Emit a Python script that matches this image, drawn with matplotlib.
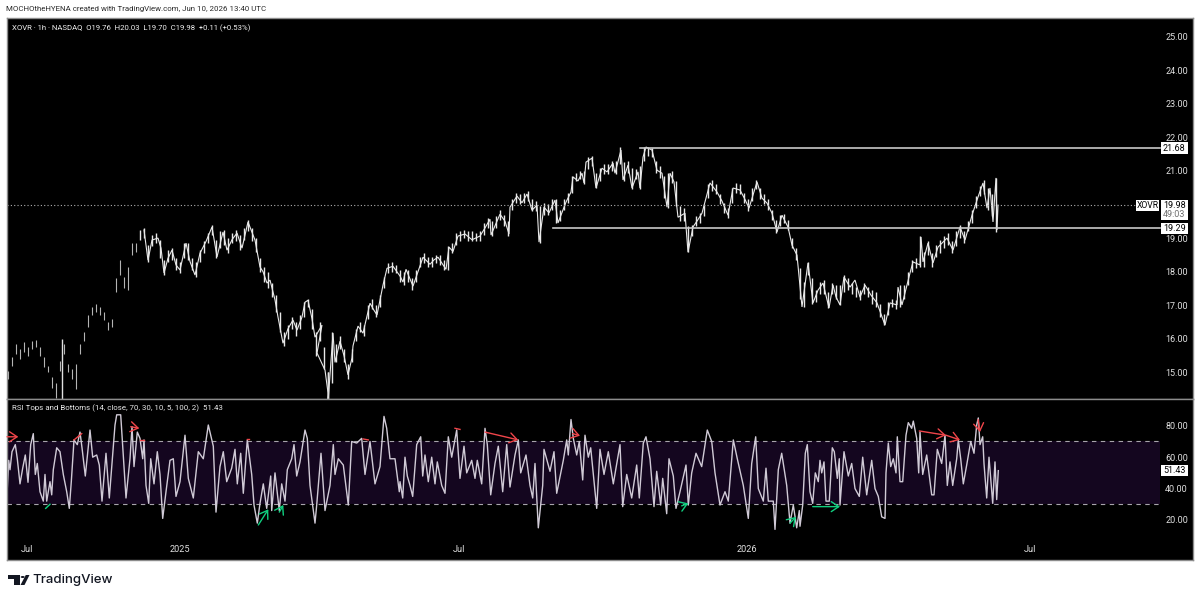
import matplotlib
matplotlib.use('Agg')
import matplotlib.pyplot as plt
from matplotlib.patches import Polygon, Circle, Rectangle

W, H = 1200, 600
FONT = 'Roboto'
plt.rcParams['font.family'] = [FONT, 'DejaVu Sans']

# time axis is index based, not calendar based, so positions are plain numbers
time_ticks = [27, 180, 459, 747, 1030]
time_labels = ['Jul', '2025', 'Jul', '2026', 'Jul']

price_ticks = [15, 16, 17, 18, 19, 21, 22, 23, 24, 25]
rsi_ticks = [20, 40, 60, 80]

# closes along the run, solid part only (the left end of the chart is broken up)
price_t = [144, 148, 152, 158, 161,
           164, 168, 172, 176, 180, 186, 190, 195, 200, 206, 212, 217, 223, 227, 232, 237, 242, 248, 255, 260,
           263, 267, 270, 275, 278, 283, 288, 293, 297, 302, 305, 308, 312, 315, 322, 317, 325, 328, 328, 333,
           335, 340, 344, 348, 352, 353, 358, 363, 370, 374, 377, 380, 383, 387, 393, 400,
           403, 406, 413, 418, 423, 430, 434, 438, 446, 449, 453, 458, 465, 472, 480, 485, 490, 491, 500, 505,
           509, 510, 517, 522, 527, 532, 537, 539, 544, 549, 555, 558, 566, 571, 573, 578, 582, 584, 586, 592,
           596, 602, 607, 613, 615, 621, 623, 628, 632, 638, 640, 643, 646, 652, 657, 662, 667, 670, 674, 678,
           685, 688, 693, 698, 702, 710, 717, 722, 728, 733, 740, 745, 749, 757, 762, 767, 772, 777, 782, 788,
           792, 797, 802, 808, 813, 818, 823, 829, 833, 836, 840, 844, 850, 855, 860, 865, 871, 877, 885, 890,
           897, 898, 902, 910, 913, 920, 921, 923, 928, 933, 938, 947, 953, 960, 965, 972, 978, 983, 987, 990,
           993, 996, 997, 998]
price = [19.24, 18.34, 18.94, 19.00, 18.70,
         17.96, 18.40, 18.64, 18.20, 18.05, 18.85, 18.30, 17.90, 18.55, 18.90, 19.33, 18.44, 19.18, 18.64, 18.95, 19.15, 18.70, 19.48, 18.94, 18.14,
         18.00, 17.66, 17.75, 17.16, 16.65, 15.87, 16.30, 16.56, 16.26, 16.65, 17.09, 17.15, 16.60, 16.05, 16.41, 15.58, 15.07, 14.40, 14.10, 16.17,
         15.30, 15.93, 15.50, 14.93, 15.43, 15.79, 16.38, 16.17, 17.06, 16.85, 16.71, 17.15, 17.60, 18.10, 18.16, 17.87,
         17.69, 18.07, 17.57, 18.00, 18.43, 18.22, 18.35, 18.43, 18.07, 18.73, 18.60, 19.06, 19.12, 18.95, 19.06, 19.30, 19.56, 19.09, 19.71, 19.50,
         19.12, 19.92, 20.25, 20.05, 20.31, 19.83, 19.98, 18.88, 19.92, 19.75, 20.13, 19.45, 20.07, 20.37, 20.82, 20.70, 20.93, 20.64, 21.26, 21.38,
         20.49, 21.08, 20.97, 21.23, 20.93, 21.62, 20.73, 21.17, 20.49, 20.97, 20.49, 21.41, 21.71, 21.62, 21.02, 20.93, 19.92, 20.93, 20.67, 19.62,
         19.74, 18.58, 19.33, 19.55, 19.74, 20.64, 20.37, 20.10, 19.68, 20.49, 20.43, 20.15, 19.89, 20.67, 20.19, 20.04, 19.74, 19.18, 19.68, 19.33,
         18.79, 18.49, 16.95, 18.26, 17.07, 17.45, 17.66, 16.92, 17.60, 17.25, 17.01, 17.84, 17.54, 17.75, 17.24, 17.60, 17.30, 17.07, 16.41, 17.07,
         17.01, 17.54, 17.01, 17.96, 18.29, 18.20, 19.03, 18.29, 18.85, 18.26, 18.73, 19.00, 18.64, 19.33, 18.94, 19.68, 20.22, 20.64, 19.89, 20.49,
         19.48, 20.79, 19.24, 19.98]

# bar ranges, one every 4 units from t=8, ten to a row
bar_low = [14.8, 15.2, 15.55, 15.4, 15.6, 15.5, 15.7, 15.75, 15.5, 15.15,
           15.0, 14.55, 14.25, 15.05, 15.55, 15.0, 14.8, 14.5, 15.55, 15.95,
           16.35, 16.7, 16.8, 16.7, 16.55, 16.25, 16.35, 17.4, 17.9, 17.5,
           17.45, 18.5, 18.6, 18.95, 19.0, 18.3, 18.75, 18.85, 18.4, 17.9,
           18.3, 18.35, 18.05, 17.95, 18.4, 18.35, 18.05, 17.85, 18.3, 18.55,
           18.85, 19.1, 18.4, 18.7, 18.8, 18.55, 18.85, 18.9, 18.65, 18.95,
           19.2, 18.9, 18.6, 18.0, 17.7, 17.5, 17.25, 16.8, 16.2, 15.8,
           16.0, 16.3, 16.1, 16.3, 16.65, 16.95, 16.3, 15.5, 15.95, 15.1,
           14.21, 14.7, 15.3, 15.7, 15.3, 14.8, 15.3, 15.95, 16.2, 16.1,
           16.6, 16.9, 16.65, 16.95, 17.5, 17.95, 18.0, 17.95, 17.7, 17.6,
           17.7, 17.45, 17.7, 18.15, 18.25, 18.15, 18.15, 18.25, 18.2, 18.05,
           18.05, 18.55, 18.8, 18.9, 19.0, 18.9, 18.9, 18.9, 18.9, 19.1,
           19.3, 19.05, 19.3, 19.55, 19.35, 19.05, 19.85, 20.05, 20.0, 20.05,
           20.1, 19.8, 19.8, 18.85, 19.7, 19.7, 19.85, 19.45, 19.5, 19.85,
           20.05, 20.35, 20.7, 20.75, 20.6, 21.05, 21.15, 20.5, 20.7, 20.9,
           20.9, 21.0, 20.9, 21.2, 20.7, 20.95, 20.45, 20.75, 20.45, 21.3,
           21.45, 21.4, 20.95, 20.8, 20.2, 19.9, 20.65, 19.95, 19.5, 19.5,
           18.58, 19.05, 19.35, 19.45, 19.65, 20.2, 20.4, 20.3, 20.0, 19.75,
           19.6, 20.05, 20.35, 20.3, 20.05, 19.8, 20.1, 20.45, 20.15, 20.0,
           19.85, 19.55, 19.15, 19.35, 19.45, 19.25, 18.7, 18.35, 17.2, 16.95,
           17.9, 17.05, 17.1, 17.35, 17.35, 16.92, 17.35, 17.2, 17.0, 17.4,
           17.45, 17.35, 17.25, 17.15, 17.35, 17.25, 17.05, 16.95, 16.65, 16.4,
           16.7, 16.95, 16.9, 16.95, 17.2, 17.6, 18.0, 18.1, 18.15, 18.15,
           18.5, 18.15, 18.45, 18.55, 18.7, 18.8, 18.55, 18.75, 19.0, 18.85,
           19.2, 19.45, 19.9, 20.25, 20.3, 19.85, 19.65, 19.18]
bar_high = [15.05, 15.45, 15.85, 15.7, 15.9, 15.75, 15.95, 15.98, 15.75, 15.45,
            15.2, 14.85, 14.7, 15.35, 15.85, 15.25, 15.1, 15.25, 15.85, 16.2,
            16.7, 16.95, 17.05, 16.95, 16.8, 16.5, 16.6, 17.8, 18.35, 17.85,
            18.15, 18.85, 18.85, 19.25, 19.3, 18.8, 19.1, 19.15, 18.95, 18.35,
            18.65, 18.7, 18.4, 18.3, 18.85, 18.85, 18.4, 18.3, 18.65, 18.9,
            19.15, 19.4, 18.95, 19.2, 19.25, 19.0, 19.15, 19.25, 19.1, 19.3,
            19.55, 19.3, 19.0, 18.4, 18.15, 18.0, 17.65, 17.3, 16.8, 16.2,
            16.4, 16.65, 16.5, 16.7, 17.1, 17.2, 16.9, 16.2, 16.5, 15.75,
            15.0, 16.2, 15.85, 16.1, 15.7, 15.25, 15.7, 16.3, 16.5, 16.4,
            17.0, 17.2, 17.0, 17.3, 17.85, 18.25, 18.3, 18.2, 18.05, 18.0,
            18.05, 17.8, 18.05, 18.45, 18.55, 18.45, 18.45, 18.5, 18.5, 18.35,
            18.75, 18.85, 19.15, 19.2, 19.25, 19.2, 19.2, 19.15, 19.2, 19.45,
            19.6, 19.5, 19.65, 19.85, 19.7, 19.5, 20.15, 20.35, 20.3, 20.35,
            20.4, 20.15, 20.1, 19.95, 20.05, 20.0, 20.15, 20.15, 19.85, 20.15,
            20.35, 20.85, 20.95, 21.0, 21.0, 21.4, 21.45, 20.95, 21.1, 21.2,
            21.2, 21.3, 21.3, 21.7, 21.25, 21.3, 21.1, 21.05, 21.15, 21.7,
            21.72, 21.68, 21.3, 21.15, 20.85, 20.95, 21.0, 20.7, 19.95, 19.9,
            19.35, 19.4, 19.65, 19.75, 20.0, 20.6, 20.72, 20.6, 20.3, 20.05,
            19.9, 20.5, 20.65, 20.6, 20.35, 20.15, 20.5, 20.72, 20.5, 20.3,
            20.15, 19.85, 19.55, 19.7, 19.72, 19.55, 19.0, 18.7, 18.1, 17.7,
            18.3, 17.8, 17.45, 17.7, 17.75, 17.4, 17.65, 17.6, 17.6, 17.9,
            17.8, 17.65, 17.55, 17.45, 17.65, 17.55, 17.45, 17.4, 17.05, 16.75,
            17.1, 17.2, 17.15, 17.6, 17.6, 18.0, 18.35, 18.4, 19.05, 18.6,
            18.9, 18.55, 18.8, 18.95, 19.05, 19.15, 18.9, 19.2, 19.4, 19.2,
            19.5, 19.85, 20.25, 20.55, 20.72, 20.5, 20.3, 20.79]

rsi_t = [7.3, 8.7, 10, 12, 15.3, 17.3, 20, 22.7, 25.3, 28, 30.7, 33.3, 35.3, 37.3, 40, 43.3, 45, 46.7, 50, 51.7,
         53.3, 56.7, 60, 63.3, 66.7, 69.3, 71.3, 74, 77.3, 80, 82, 85.3, 90, 92.7, 96.7, 99.3, 102, 106, 109.3, 115,
         116.7, 120.7, 123.3, 126, 130, 132, 134, 137.3, 140, 142.7, 144, 146, 148.7, 150.7, 154, 157.3, 160, 162.7, 166, 170,
         173.3, 176, 180, 185, 188.3, 193.3, 198.3, 203.3, 208.3, 213.3, 216, 220, 223.3, 226.7, 231.7, 235, 237.3, 240.7, 243.3, 247.3,
         251.7, 254, 257.3, 260, 263.3, 266.7, 270.7, 271.7, 275, 279.3, 281.7, 285, 287.3, 291.7, 294, 296.7, 300, 305, 307.3, 310,
         315, 316.7, 321, 325, 330, 333.3, 335, 338.3, 343.3, 348.3, 351.7, 356.7, 361.7, 365, 370, 375, 380, 384, 386.7, 390,
         395, 399.3,
         400, 402.7, 405, 407.3, 410, 412.7, 416.7, 420.7, 422.7, 425, 428.3, 431.7, 435, 437.3, 441.7, 445, 448.3, 451.7, 456.7, 460,
         464, 466.7, 471.7, 475, 477.3, 481.7, 485, 487.3, 490.7, 495, 498.3, 502.7, 506.7, 510, 515, 518.3, 520.7, 526, 530, 532.7,
         535, 538.3, 542.7, 544, 550, 554, 556.7, 563.3, 566.7, 568.3, 571, 573.3, 576.7, 579.3, 582.7, 585, 588.3, 590.7, 596.7, 600,
         604, 608.3, 613.3, 620, 622.7, 626.7, 631.7, 636.7, 639.3, 643.3, 646, 650, 654, 656.7, 660.7, 662.7, 666.7, 669, 673.3, 676,
         680, 686, 688.3, 691.7, 696, 701.7, 707.3, 711.7, 715, 720, 725, 728.3, 733.3, 737.3, 743.3, 748.3, 751.7, 755.7, 758.3, 763.3,
         766, 768.3, 773.3, 775, 778.3, 781.7, 786.7, 790, 793.3, 796.7, 799.3,
         800, 802.7, 805.3, 807.3, 810, 812.7, 815.3, 818.3, 820, 821.7, 824, 826, 829.3, 832.3, 834.3, 837.3, 839.3, 840, 844, 848.3,
         851.7, 855, 859.3, 862.7, 866.7, 871.7, 875, 878.3, 881.7, 885, 886, 888.3, 890.7, 893.3, 896, 897.3, 900, 902.7, 906, 908.3,
         911.7, 913.3, 916.7, 918.7, 920, 922.7, 926.7, 931.7, 934, 937.3, 941.7, 945, 947.3, 950, 952.7, 956.7, 958.3, 960.7, 963.3, 966.7,
         970.7, 974, 976.7, 978.3, 980, 982.7, 984, 986.7, 989, 992.7, 995, 996.7, 998.3]
rsi = [40, 58, 52, 63.5, 68, 59, 43, 53, 61.4, 44, 68, 75, 49, 56, 38, 32, 49, 32, 44.4, 36,
       52, 66, 63.5, 49, 38, 27.4, 44.4, 71, 68, 76, 66, 48, 77.3, 60, 61.4, 55, 32, 62.5, 34, 80.5,
       87, 87, 61.4, 34, 59, 79.4, 54, 76, 72, 59, 71, 42, 30.6, 59, 43, 63.5, 49, 21, 38, 58,
       59, 35, 44.4, 74, 46.5, 34, 63.5, 59, 80.5, 67, 25, 54, 63.5, 44.4, 53, 65, 43, 62.5, 37, 71,
       49, 29.5, 18, 30.6, 43, 27.4, 48, 26, 50, 26, 43, 32, 52, 59, 68, 48, 57, 77.3, 72, 42,
       18, 29.5, 62.5, 26, 42, 68, 49, 59, 55, 29.5, 70, 69, 72, 49, 70, 43, 54, 86, 78.4, 59,
       59, 38,
       44.4, 34, 60, 48, 42, 35, 68, 73, 48, 61.4, 44.4, 60, 43, 57, 42, 37, 73, 60, 77.3, 46.5,
       67, 50, 58, 46.5, 58, 43, 78.4, 68, 36, 56, 67, 38, 68, 41, 61.4, 71, 50, 61.4, 42, 34,
       56, 15, 42, 65, 51, 63.5, 37, 58, 71, 61.4, 84, 72, 61.4, 70, 45.5, 74, 60, 66, 27.4, 65,
       49, 63.5, 43, 68, 28.5, 49, 34, 55, 34, 69, 73, 59, 28.5, 51, 29.5, 46.5, 24, 59, 48, 27.4,
       38, 55, 29.5, 50, 62.5, 54, 77.3, 70, 50, 29.5, 38, 32, 71, 59, 42, 21, 56, 73, 40, 32,
       53, 32, 32, 14, 52, 62.5, 42, 18, 29.5, 15, 26,
       16, 29.5, 62.5, 68, 38, 30.6, 50, 44.4, 58, 50, 57, 32, 32, 66, 63.5, 46.5, 59, 29.5, 63.5, 48,
       56, 40, 35, 60, 36, 58, 40, 35, 22, 21, 50, 69, 54, 59, 50, 73, 44.4, 44.4, 74, 82,
       78.4, 83, 72, 50, 76, 49, 61.4, 36, 36, 65, 56, 74, 42, 57, 42, 59, 71, 59, 43, 55,
       70, 62.5, 80.5, 85, 68, 73, 56, 34, 60, 30.6, 57, 33, 51.43]

# start t, start value, end t, end value
red_arrows = [(7, 73, 18.3, 73), (130.7, 79.4, 139.3, 78.4), (485, 76, 518.3, 71),
              (572.7, 75, 580, 73.7), (919.3, 76.7, 946, 74), (946, 74, 960, 71), (978, 84, 980, 76)]
red_stubs = [(74, 71, 81.7, 75), (140, 71, 144, 71), (246.7, 71.4, 249.3, 71.4), (363.3, 71.6, 368.3, 71),
             (455, 78.4, 460, 77.7)]
green_arrows = [(258.3, 16.8, 268.3, 26.8), (279.3, 25, 283.3, 29.5), (681.7, 29, 688.3, 30.6),
                (790, 18, 796, 22), (812.7, 28.5, 840, 28.5)]
green_stubs = [(45.7, 27.4, 50, 30)]

spike_t = [62, 328]
spike_top = [15.99, 15.0]

last_close = 19.98
res_level = 21.68
sup_level = 19.29
res_start = 640
sup_start = 553
last_rsi = 51.43


def place(y_top, y_bottom):
    return fig.add_axes([7 / W, 1 - y_bottom / H, (1193 - 7) / W, (y_bottom - y_top) / H])


def value_box(ax, t0, t1, v_lo, v_hi, v, txt, color='black', size=6.5):
    ax.add_patch(Rectangle((t0, v_lo), t1 - t0, v_hi - v_lo, facecolor='white', edgecolor='none', zorder=6))
    ax.text((t0 + t1) / 2, v, txt, color=color, fontsize=size, ha='center', va='center', zorder=7)


fig = plt.figure(figsize=(W / 100, H / 100), dpi=100, facecolor='white')
ax = place(18, 399)
ax2 = place(399, 560)

for a in (ax, ax2):
    a.set_facecolor('black')
    a.set_xlim(7, 1193)
    a.yaxis.tick_right()
    a.tick_params(axis='y', length=0, pad=-20, labelsize=6.5, labelcolor='#e0e0e0')
    for s in a.spines.values():
        s.set_color('#8c8c8c')
        s.set_linewidth(1)

#%% price pane
ax.set_ylim(14.21, 25.55)
ax.set_xticks([])
ax.set_yticks(price_ticks)
ax.set_yticklabels(['{:.2f}'.format(v) for v in price_ticks])

bar_t = list(range(8, 997, 4))
n_left = 33  # bars up to about t=136 are thin and broken up
ax.vlines(bar_t[:n_left], bar_low[:n_left], bar_high[:n_left], color='#b4b4b4', lw=0.8)
ax.vlines(bar_t[n_left:], bar_low[n_left:], bar_high[n_left:], color='#e8e8e8', lw=1.0)
ax.plot(price_t, price, color='#e8e8e8', lw=0.8, solid_joinstyle='miter')
ax.vlines(spike_t, 14.21, spike_top, color='#e0e0e0', lw=1)

ax.plot([res_start, 1160], [res_level, res_level], color='#c8c8c8', lw=1.2)
ax.plot([sup_start, 1160], [sup_level, sup_level], color='#c8c8c8', lw=1.2)
ax.plot([7, 1136], [last_close, last_close], color='#b0b0b0', lw=0.8, ls=(0, (1, 2)))

value_box(ax, 1160.5, 1188, res_level - 0.165, res_level + 0.165, res_level, '{:.2f}'.format(res_level))
value_box(ax, 1160.5, 1188, sup_level - 0.165, sup_level + 0.165, sup_level, '{:.2f}'.format(sup_level))
value_box(ax, 1160.5, 1188, 19.54, 20.13, last_close, '{:.2f}'.format(last_close))
ax.text(1174.2, 19.70, '49:03', color='#707070', fontsize=6.5, ha='center', va='center', zorder=7)
value_box(ax, 1136, 1158.7, last_close - 0.165, last_close + 0.165, last_close, 'XOVR', size=6.2)

ax.text(12, 25.25, 'XOVR \u00b7 1h \u00b7 NASDAQ  O19.76  H20.03  L19.70  C19.98  +0.11 (+0.53%)',
        color='#f0f0f0', fontsize=5.6, va='center')

#%% rsi pane
ax2.set_ylim(-5.5, 97.07)
ax2.set_yticks(rsi_ticks)
ax2.set_yticklabels(['{:.2f}'.format(v) for v in rsi_ticks])
ax2.set_xticks(time_ticks)
ax2.set_xticklabels(time_labels)
ax2.tick_params(axis='x', length=0, pad=-11, labelsize=6.6, labelcolor='#e0e0e0')

ax2.fill_between([7, 1160], 30, 70, color='#14061f', lw=0)
for lev in (70, 30):
    ax2.plot([7, 1160], [lev, lev], color='#a8a4ac', lw=0.8, ls=(0, (4, 4)))
ax2.plot(rsi_t, rsi, color='#d0cad6', lw=1.0)

head = '->,head_length=0.45,head_width=0.3'
for x0, y0, x1, y1 in red_arrows:
    ax2.annotate('', xy=(x1, y1), xytext=(x0, y0),
                 arrowprops=dict(arrowstyle=head, color='#f0454a', lw=1, shrinkA=0, shrinkB=0, mutation_scale=12))
for x0, y0, x1, y1 in green_arrows:
    ax2.annotate('', xy=(x1, y1), xytext=(x0, y0),
                 arrowprops=dict(arrowstyle=head, color='#10d080', lw=1, shrinkA=0, shrinkB=0, mutation_scale=12))
for x0, y0, x1, y1 in red_stubs:
    ax2.plot([x0, x1], [y0, y1], color='#f0454a', lw=1)
for x0, y0, x1, y1 in green_stubs:
    ax2.plot([x0, x1], [y0, y1], color='#10d080', lw=1)

value_box(ax2, 1160.5, 1188, last_rsi - 3.3, last_rsi + 3.3, last_rsi, '{:.2f}'.format(last_rsi))
ax2.text(12, 91.5, 'RSI Tops and Bottoms (14, close, 70, 30, 10, 5, 100, 2)  51.43',
         color='#e8e8e8', fontsize=5.7, va='center')

#%% header and logo
fig.text(6.5 / W, 1 - 9.5 / H, 'MOCHOtheHYENA created with TradingView.com, Jun 10, 2026 13:40 UTC',
         color='#2a2a2a', fontsize=5.7, va='center')
fig.text(32 / W, 1 - 580 / H, 'TradingView', color='#131722', fontsize=9.5, family='Inter', fontweight='medium', va='center')


def px(points):
    return [(x / W, 1 - y / H) for x, y in points]


for pts in ([(8, 575), (20, 575), (20, 585), (13.5, 585), (13.5, 579), (8, 579)],
            [(25.8, 575), (29.5, 575), (24.5, 585), (20.5, 585)]):
    fig.add_artist(Polygon(px(pts), closed=True, transform=fig.transFigure, facecolor='#131722', edgecolor='none'))
fig.add_artist(Circle((22.7 / W, 1 - 577 / H), 2 / W, transform=fig.transFigure, facecolor='#131722', edgecolor='none'))

fig.savefig('out.png', dpi=100, facecolor='white')
